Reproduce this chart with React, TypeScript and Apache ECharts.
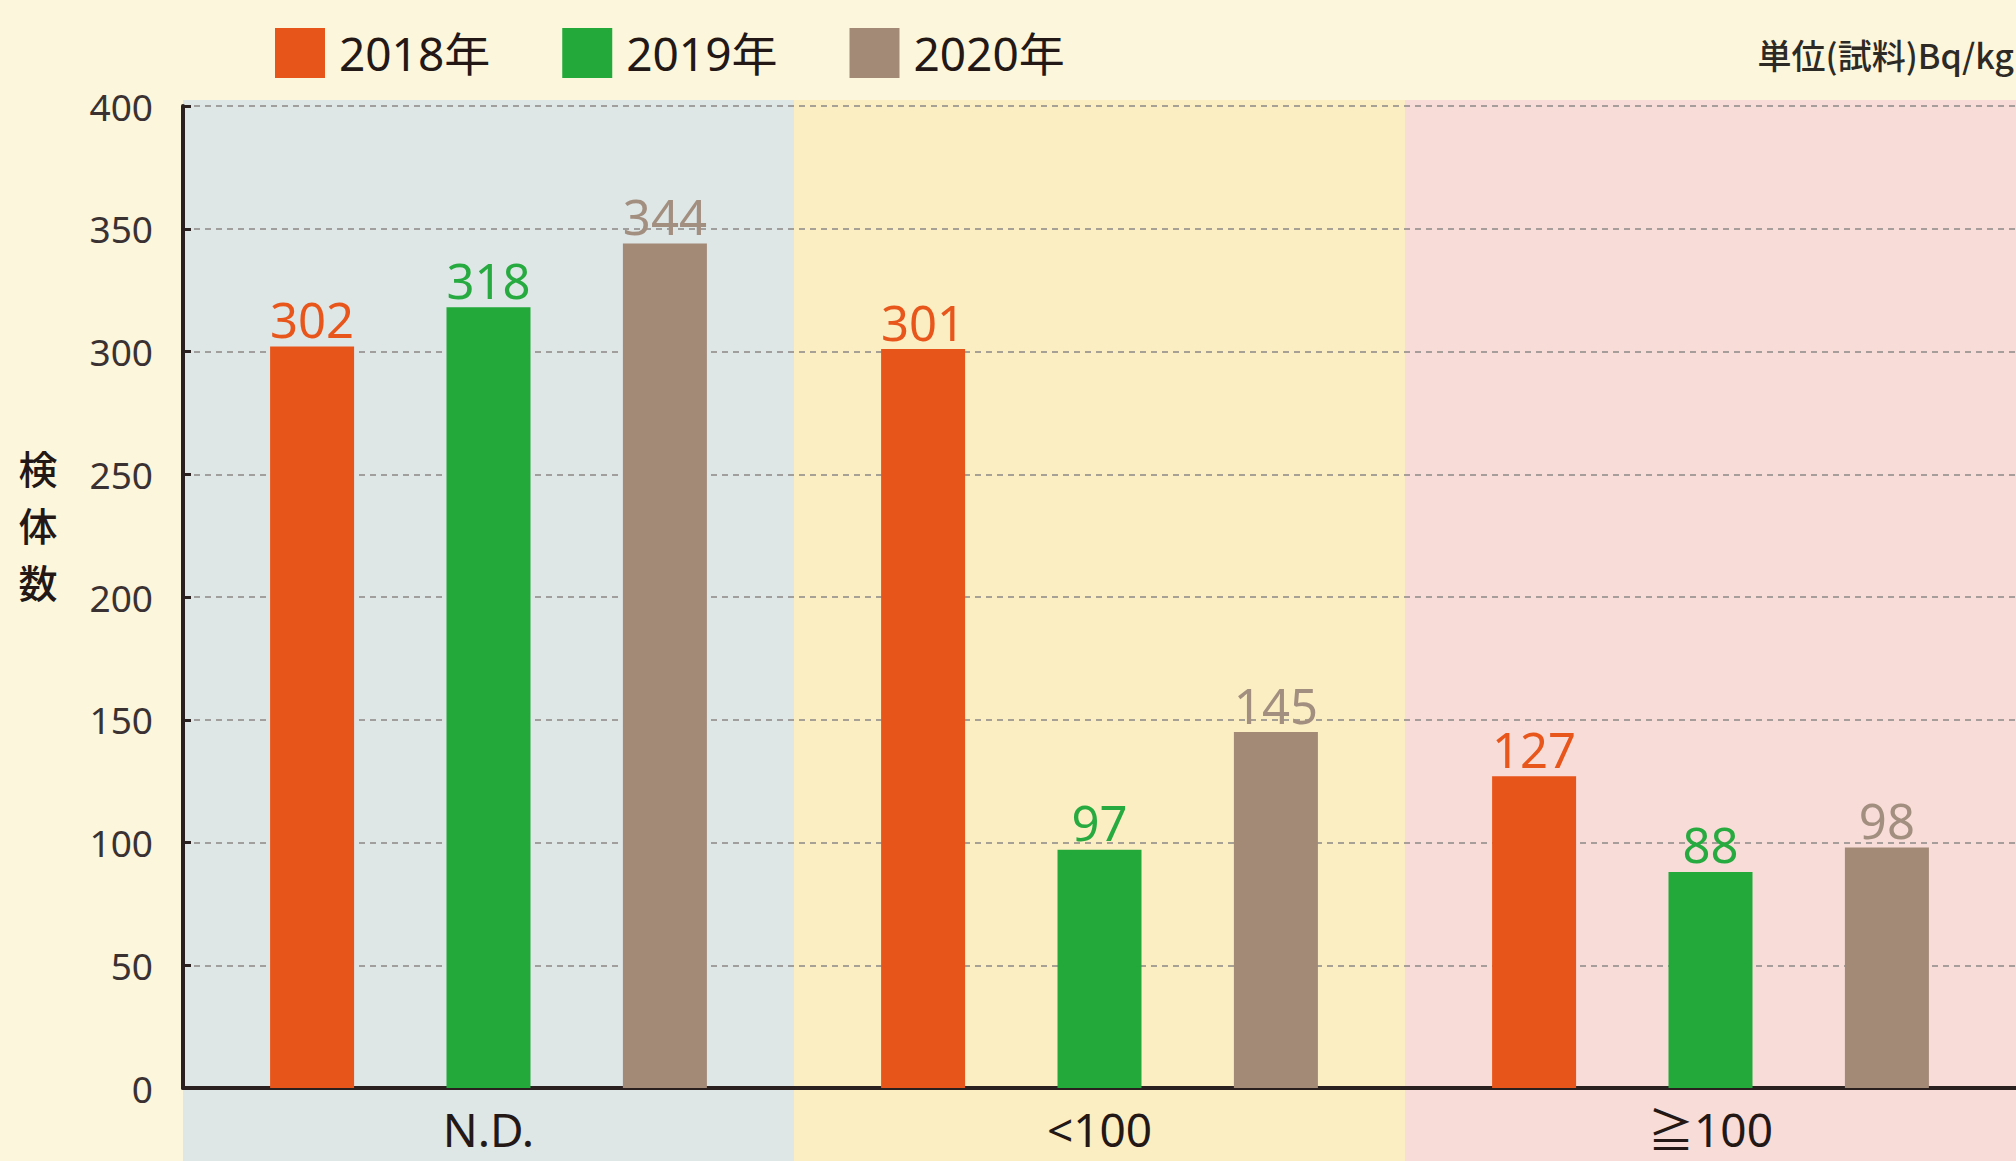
import React, { useEffect, useRef } from "react";
import * as echarts from "echarts";

const categories = ["N.D.", "<100", "≧100"];
const seriesNames = ["2018年", "2019年", "2020年"];
const values2018 = [302, 301, 127];
const values2019 = [318, 97, 88];
const values2020 = [344, 145, 98];
const yTickInterval = 50;
const yMax = 400;
const yAxisNameChars = ["検", "体", "数"];

const barColors = ["#e8551a", "#22a93a", "#a28a77"];
const labelColors = ["#e8561c", "#27ab40", "#a38f80"];
const bandColors = ["#dee6e6", "#fbeec3", "#f8dcd7"];

export default function App() {
  const ref = useRef<HTMLDivElement>(null);

  useEffect(() => {
    if (!ref.current) return;
    const chart = echarts.init(ref.current, null, { renderer: "svg" });
    const narrow = '"Liberation Sans Narrow", "Noto Sans", "Noto Sans CJK JP", sans-serif';
    const allValues = [values2018, values2019, values2020];

    const barSeries = seriesNames.map((name, i) => ({
      name,
      type: "bar",
      data: allValues[i],
      barWidth: 84,
      barGap: "110%",
      z: 3,
      itemStyle: { color: barColors[i] },
      label: {
        show: true,
        position: "top",
        distance: 3,
        color: labelColors[i],
        fontSize: 49,
        fontFamily: '"Noto Sans", sans-serif',
      },
    }));

    const nameTexts = yAxisNameChars.map((ch, i) => ({
      type: "text",
      x: 38,
      y: 467 + i * 57,
      z: 10,
      style: {
        text: ch,
        align: "center",
        verticalAlign: "middle",
        fontSize: 39,
        fontWeight: 500,
        fontFamily: '"Noto Sans CJK JP", sans-serif',
        fill: "#231815",
      },
    }));

    const option: any = {
      animation: false,
      backgroundColor: "#fcf6dc",
      legend: {
        data: seriesNames,
        left: 270,
        top: 23,
        itemWidth: 50,
        itemHeight: 50,
        itemGap: 72,
        icon: "rect",
        selectedMode: false,
        textStyle: {
          fontSize: 46,
          fontFamily: narrow,
          color: "#231815",
          padding: [0, 0, 0, 9],
        },
      },
      grid: {
        left: 183,
        top: 106,
        width: 1836,
        bottom: 73,
        containLabel: false,
      },
      xAxis: {
        type: "category",
        data: categories,
        z: 2,
        axisLine: { lineStyle: { color: "#2a2020", width: 4 } },
        axisTick: { show: false },
        axisLabel: {
          fontSize: 46,
          lineHeight: 50,
          fontFamily: narrow,
          color: "#231815",
          margin: 16,
        },
      },
      yAxis: {
        type: "value",
        min: 0,
        max: yMax,
        interval: yTickInterval,
        z: 2,
        axisLine: { show: true, lineStyle: { color: "#2a2020", width: 4 } },
        axisTick: {
          show: true,
          inside: true,
          length: 8,
          lineStyle: { color: "#2a2020", width: 3 },
        },
        axisLabel: {
          fontSize: 37,
          fontFamily: '"Noto Sans", sans-serif',
          color: "#3a3232",
          margin: 30,
        },
        splitLine: {
          show: true,
          lineStyle: { color: "#8c8886", width: 1.6, type: [6, 5] },
        },
      },
      graphic: [
        {
          type: "text",
          x: 2014,
          y: 54,
          z: 10,
          style: {
            text: "単位(試料)Bq/kg",
            align: "right",
            verticalAlign: "middle",
            fontSize: 34,
            fontWeight: 500,
            fontFamily: '"Noto Sans CJK JP", sans-serif',
            fill: "#2d2a26",
          },
        },
        ...nameTexts,
      ],
      series: [
        {
          type: "custom",
          name: "bands",
          silent: true,
          z: 1,
          clip: false,
          data: categories.map((_, i) => [i]),
          encode: { x: 0 },
          renderItem: (params: any, api: any) => {
            const idx = api.value(0);
            const c = api.coord([idx, 0]);
            const w = api.size([1, 0])[0];
            const top = params.coordSys.y - 6;
            return {
              type: "rect",
              shape: {
                x: c[0] - w / 2,
                y: top,
                width: w,
                height: api.getHeight() - top,
              },
              style: { fill: bandColors[params.dataIndex] },
            };
          },
        },
        ...barSeries,
      ],
    };

    chart.setOption(option);
    return () => chart.dispose();
  }, []);

  return (
    <div
      ref={ref}
      style={{ position: "absolute", left: 0, top: 0, width: 2016, height: 1161 }}
    />
  );
}
